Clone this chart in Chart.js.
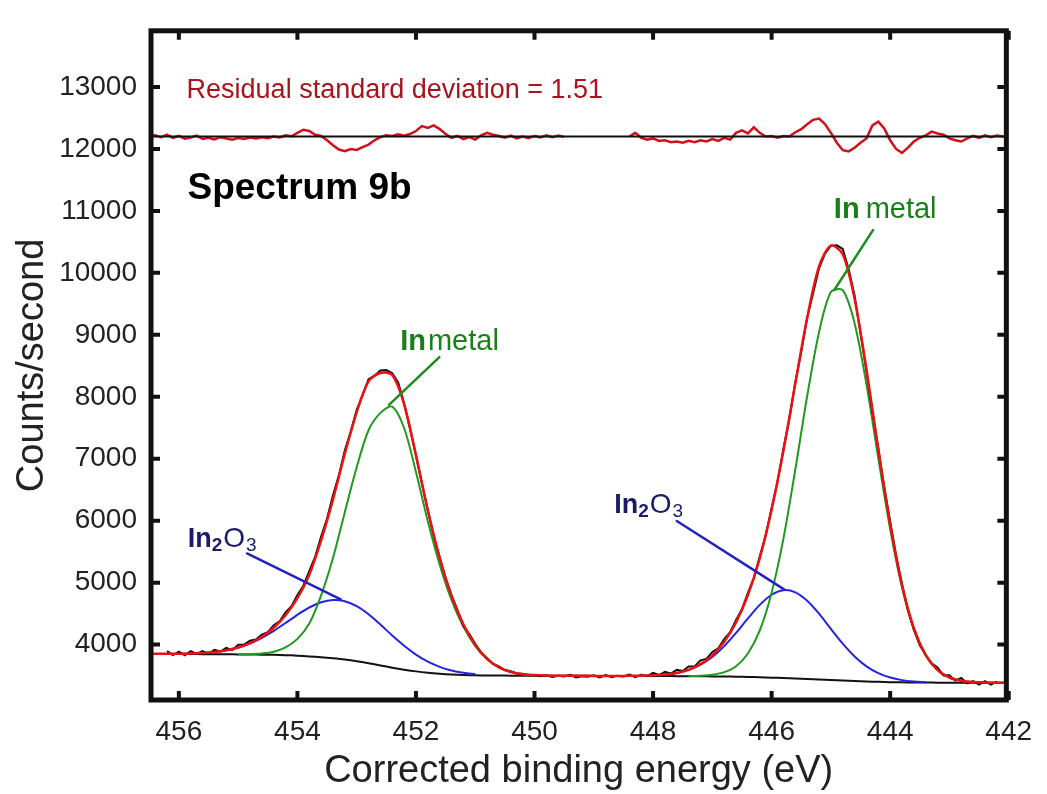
<!DOCTYPE html>
<html>
<head>
<meta charset="utf-8">
<title>Spectrum 9b</title>
<script src="https://cdn.jsdelivr.net/npm/chart.js@4.4.1/dist/chart.umd.min.js"></script>
<style>
    html, body { margin: 0; padding: 0; background: #fff; }
    #wrap { width: 1047px; height: 794px; }
</style>
</head>
<body>
<div id="wrap"><canvas id="chart" width="1047" height="794"></canvas></div>
<script>
// energy grids (eV, high to low, as on the instrument axis)
function grid(from, to, step) {
    let out = [];
    let n = Math.round((from - to) / step);
    for (let i = 0; i <= n; i++) out.push(+(from - i * step).toFixed(2));
    return out;
}

const xTicks = [456, 454, 452, 450, 448, 446, 444, 442];
const yTicks = [4000, 5000, 6000, 7000, 8000, 9000, 10000, 11000, 12000, 13000];

// fitted envelope and Shirley background, 0.2 eV steps
const fitEnergy = grid(456.6, 442.0, 0.2);
const fitCounts = [
    3850, 3851, 3851, 3852, 3856, 3865, 3881, 3909, 3953, 4024,
    4127, 4272, 4474, 4751, 5129, 5683, 6341, 7081, 7750, 8249,
    8385, 8350, 7883, 7056, 6168, 5401, 4783, 4326, 3994, 3771,
    3634, 3559, 3523, 3508, 3500, 3497, 3496, 3496, 3495, 3495,
    3494, 3496, 3497, 3504, 3516, 3543, 3593, 3686, 3827, 4045,
    4359, 4800, 5397, 6177, 7132, 8216, 9274, 10103, 10440, 10300,
    9580, 8443, 7146, 5938, 4957, 4264, 3832, 3589, 3469, 3416,
    3395, 3387, 3384, 3382
];
const backgroundCounts = [
    3850, 3850, 3849, 3848, 3847, 3846, 3845, 3844, 3842, 3840,
    3838, 3835, 3830, 3822, 3810, 3795, 3778, 3758, 3732, 3700,
    3664, 3628, 3596, 3568, 3546, 3530, 3518, 3510, 3505, 3502,
    3500, 3499, 3498, 3498, 3497, 3497, 3496, 3496, 3495, 3495,
    3494, 3494, 3493, 3493, 3492, 3491, 3490, 3489, 3487, 3485,
    3482, 3478, 3473, 3467, 3461, 3454, 3446, 3438, 3429, 3420,
    3412, 3405, 3399, 3394, 3391, 3389, 3387, 3386, 3385, 3384,
    3384, 3383, 3383, 3382
];

// measured spectrum, 0.1 eV steps
const measuredEnergy = grid(456.2, 442.2, 0.1);
const measuredCounts = [
    3896, 3831, 3887, 3829, 3896, 3850, 3895, 3850, 3916, 3889,
    3947, 3911, 3998, 4001, 4064, 4082, 4162, 4200, 4312, 4377,
    4519, 4620, 4801, 4950, 5184, 5420, 5743, 6035, 6411, 6735,
    7136, 7440, 7790, 8025, 8284, 8340, 8423, 8430, 8380, 8230,
    7893, 7485, 7056, 6600, 6173, 5750, 5411, 5075, 4798, 4560,
    4296, 4170, 4014, 3870, 3781, 3690, 3649, 3590, 3569, 3533,
    3528, 3504, 3508, 3488, 3505, 3478, 3497, 3487, 3511, 3471,
    3491, 3480, 3505, 3470, 3510, 3474, 3499, 3485, 3516, 3476,
    3512, 3490, 3544, 3509, 3561, 3533, 3593, 3575, 3648, 3649,
    3746, 3770, 3882, 3940, 4090, 4200, 4399, 4570, 4835, 5070,
    5422, 5760, 6207, 6635, 7167, 7645, 8236, 8725, 9274, 9670,
    10073, 10310, 10440, 10445, 10385, 10060, 9630, 9020, 8413, 7760,
    7166, 6540, 5988, 5440, 4977, 4555, 4239, 3990, 3832, 3697,
    3629, 3500, 3504, 3418, 3461, 3373, 3410, 3355, 3412, 3355,
    3404
];

// fitted components (background included)
const metal1Energy = grid(455.0, 450.0, 0.2);
const metal1Counts = [
    3844, 3846, 3856, 3885, 3955, 4092, 4340, 4795, 5398, 6138,
    6862, 7460, 7740, 7840, 7496, 6785, 5990, 5290, 4718, 4290,
    3975, 3762, 3630, 3559, 3523, 3508
];
const oxide1Energy = grid(456.0, 451.0, 0.2);
const oxide1Counts = [
    3852, 3856, 3865, 3881, 3909, 3953, 4018, 4109, 4222, 4349,
    4481, 4599, 4683, 4721, 4701, 4620, 4489, 4323, 4147, 3983,
    3839, 3724, 3641, 3583, 3546, 3524
];
const metal2Energy = grid(447.4, 442.4, 0.2);
const metal2Counts = [
    3493, 3498, 3514, 3555, 3652, 3856, 4229, 4839, 5715, 6826,
    8012, 9042, 9690, 9720, 9184, 8199, 7006, 5864, 4921, 4248,
    3825, 3589, 3469, 3416, 3395, 3387
];
const oxide2Energy = grid(448.2, 443.4, 0.2);
const oxide2Counts = [
    3497, 3504, 3516, 3543, 3593, 3677, 3800, 3975, 4189, 4422,
    4641, 4805, 4878, 4844, 4708, 4499, 4254, 4015, 3808, 3649,
    3539, 3468, 3427, 3405, 3394
];

// residual trace (offset to 12200), two pieces
const residualZero = 12200;
const residualLeftEnergy = grid(456.5, 449.5, 0.1);
const residualLeftCounts = [
    12205, 12220, 12190, 12230, 12180, 12210, 12165, 12185, 12215, 12160,
    12180, 12155, 12190, 12170, 12150, 12175, 12160, 12185, 12170, 12190,
    12175, 12200, 12185, 12220, 12205, 12260, 12310, 12290, 12230, 12210,
    12140, 12060, 11990, 11965, 12000, 11985, 12030, 12070, 12140, 12190,
    12220, 12210, 12235, 12215, 12240, 12290, 12370, 12340, 12380, 12320,
    12240, 12180, 12210, 12160, 12190, 12150, 12220, 12260, 12230, 12210,
    12180, 12215, 12170, 12200, 12175, 12210, 12185, 12220, 12190, 12215,
    12195
];
const residualRightEnergy = grid(448.4, 442.0, 0.1);
const residualRightCounts = [
    12200, 12260, 12180, 12150, 12170, 12130, 12140, 12110, 12120, 12100,
    12130, 12110, 12140, 12120, 12160, 12130, 12180, 12150, 12260, 12300,
    12250, 12350, 12260, 12200, 12210, 12180, 12210, 12200, 12270, 12320,
    12400, 12470, 12490, 12400, 12260, 12100, 11980, 11960, 12020, 12100,
    12170, 12380, 12440, 12330, 12140, 12000, 11935, 12020, 12120, 12180,
    12220, 12280, 12250, 12230, 12170, 12140, 12120, 12170, 12210, 12180,
    12220, 12190, 12215, 12200, 12210
];

function points(xs, ys) {
    if (xs.length !== ys.length) throw new Error('length mismatch ' + xs.length + ' vs ' + ys.length);
    return xs.map((x, i) => ({ x: x, y: ys[i] }));
}

const FONT = "'Liberation Sans', Arial, Helvetica, sans-serif";

// text and leader lines, anchored in data units
const notes = [
    { x: 455.87, y: 12819, runs: [{ text: 'Residual standard deviation = 1.51', font: '27px ' + FONT, color: '#a8141e' }] },
    { x: 455.855, y: 11190, runs: [{ text: 'Spectrum 9b', font: 'bold 37px ' + FONT, color: '#000' }] },
    { x: 452.267, y: 8751, runs: [
        { text: 'In', font: 'bold 29px ' + FONT, color: '#1a7f1a' },
        { text: 'metal', font: '29px ' + FONT, color: '#1a7f1a', gap: 2 }] },
    { x: 444.95, y: 10884, runs: [
        { text: 'In', font: 'bold 29px ' + FONT, color: '#1a7f1a' },
        { text: 'metal', font: '29px ' + FONT, color: '#1a7f1a', gap: 6 }] },
    { x: 455.85, y: 5577, runs: [
        { text: 'In', font: 'bold 27px ' + FONT, color: '#1b1b6b' },
        { text: '2', font: 'bold 19px ' + FONT, color: '#1b1b6b', dy: 4 },
        { text: 'O', font: '28px ' + FONT, color: '#1b1b6b', gap: 1 },
        { text: '3', font: '19px ' + FONT, color: '#1b1b6b', dy: 4, gap: 1 }] },
    { x: 448.655, y: 6129, runs: [
        { text: 'In', font: 'bold 27px ' + FONT, color: '#1b1b6b' },
        { text: '2', font: 'bold 19px ' + FONT, color: '#1b1b6b', dy: 4 },
        { text: 'O', font: '28px ' + FONT, color: '#1b1b6b', gap: 1 },
        { text: '3', font: '19px ' + FONT, color: '#1b1b6b', dy: 4, gap: 1 }] }
];
const leaders = [
    { from: [451.605, 8640], to: [452.455, 7868], color: '#1e8c1e' },
    { from: [444.29, 10690], to: [444.94, 9728], color: '#1e8c1e' },
    { from: [454.85, 5471], to: [453.27, 4730], color: '#2222c0' },
    { from: [447.6, 5996], to: [445.79, 4892], color: '#2222c0' }
];

const framePlugin = {
    id: 'frame',
    afterDatasetsDraw(chart) {
        let ctx = chart.ctx;
        let xs = chart.scales.x, ys = chart.scales.y;
        ctx.save();
        ctx.lineWidth = 2.5;
        ctx.lineCap = 'round';
        leaders.forEach(l => {
            ctx.strokeStyle = l.color;
            ctx.beginPath();
            ctx.moveTo(xs.getPixelForValue(l.from[0]), ys.getPixelForValue(l.from[1]));
            ctx.lineTo(xs.getPixelForValue(l.to[0]), ys.getPixelForValue(l.to[1]));
            ctx.stroke();
        });
        ctx.restore();
    },
    afterDraw(chart) {
        let ctx = chart.ctx;
        let a = chart.chartArea;
        let xs = chart.scales.x, ys = chart.scales.y;
        ctx.save();
        ctx.strokeStyle = '#111';
        ctx.lineWidth = 5;
        ctx.strokeRect(a.left, a.top, a.right - a.left, a.bottom - a.top);
        ctx.lineWidth = 4;
        ctx.beginPath();
        xs.ticks.forEach(t => {
            let px = xs.getPixelForValue(t.value);
            ctx.moveTo(px, a.bottom); ctx.lineTo(px, a.bottom - 9);
            ctx.moveTo(px, a.top); ctx.lineTo(px, a.top + 9);
        });
        ys.ticks.forEach(t => {
            let py = ys.getPixelForValue(t.value);
            ctx.moveTo(a.left, py); ctx.lineTo(a.left + 9, py);
            ctx.moveTo(a.right, py); ctx.lineTo(a.right - 9, py);
        });
        ctx.stroke();

        ctx.textBaseline = 'alphabetic';
        ctx.textAlign = 'left';
        notes.forEach(n => {
            let px = xs.getPixelForValue(n.x);
            let py = ys.getPixelForValue(n.y);
            n.runs.forEach(r => {
                px += r.gap || 0;
                ctx.font = r.font;
                ctx.fillStyle = r.color;
                ctx.fillText(r.text, px, py + (r.dy || 0));
                px += ctx.measureText(r.text).width;
            });
        });
        ctx.restore();
    }
};

function line(data, color, width, order, smooth) {
    return {
        data: data,
        borderColor: color,
        borderWidth: width,
        pointRadius: 0,
        fill: false,
        order: order,
        tension: smooth ? 0.3 : 0
    };
}

new Chart(document.getElementById('chart'), {
    type: 'line',
    data: {
        datasets: [
            line(points([456.6, 442.0], [residualZero, residualZero]), '#111', 2, 1),
            line(points(residualLeftEnergy, residualLeftCounts), '#d0101c', 2.5, 2),
            line(points(residualRightEnergy, residualRightCounts), '#d0101c', 2.5, 2),
            line(points(fitEnergy, fitCounts), '#ee1111', 2.5, 3, true),
            line(points(measuredEnergy, measuredCounts), '#111', 2, 4),
            line(points(metal1Energy, metal1Counts), '#1f9a1f', 2, 5, true),
            line(points(metal2Energy, metal2Counts), '#1f9a1f', 2, 5, true),
            line(points(oxide1Energy, oxide1Counts), '#2323e6', 2, 6, true),
            line(points(oxide2Energy, oxide2Counts), '#2323e6', 2, 6, true),
            line(points(fitEnergy, backgroundCounts), '#111', 2, 7, true)
        ]
    },
    options: {
        responsive: false,
        devicePixelRatio: 1,
        animation: false,
        events: [],
        layout: { padding: { left: 0, top: 15, right: 30, bottom: 0 } },
        plugins: { legend: { display: false }, tooltip: { enabled: false } },
        scales: {
            x: {
                type: 'linear',
                reverse: true,
                min: 442.04,
                max: 456.47,
                grid: { display: false, drawTicks: false },
                border: { display: false },
                afterBuildTicks: s => { s.ticks = xTicks.map(v => ({ value: v })); },
                afterFit: s => { s.height = 94; },
                ticks: {
                    padding: 15,
                    color: '#222',
                    font: { family: FONT, size: 28 },
                    callback: v => String(v)
                },
                title: {
                    display: true,
                    text: 'Corrected binding energy (eV)',
                    color: '#222',
                    font: { family: FONT, size: 38 },
                    padding: { top: 0, bottom: 0 }
                }
            },
            y: {
                type: 'linear',
                min: 3106,
                max: 13907,
                grid: { display: false, drawTicks: false },
                border: { display: false },
                afterBuildTicks: s => { s.ticks = yTicks.map(v => ({ value: v })); },
                afterFit: s => { s.width = 151; },
                ticks: {
                    padding: 14,
                    color: '#222',
                    font: { family: FONT, size: 28 },
                    callback: v => String(v)
                },
                title: {
                    display: true,
                    text: 'Counts/second',
                    color: '#222',
                    font: { family: FONT, size: 38 },
                    padding: { top: 10, bottom: 0 }
                }
            }
        }
    },
    plugins: [framePlugin]
});
</script>
</body>
</html>
